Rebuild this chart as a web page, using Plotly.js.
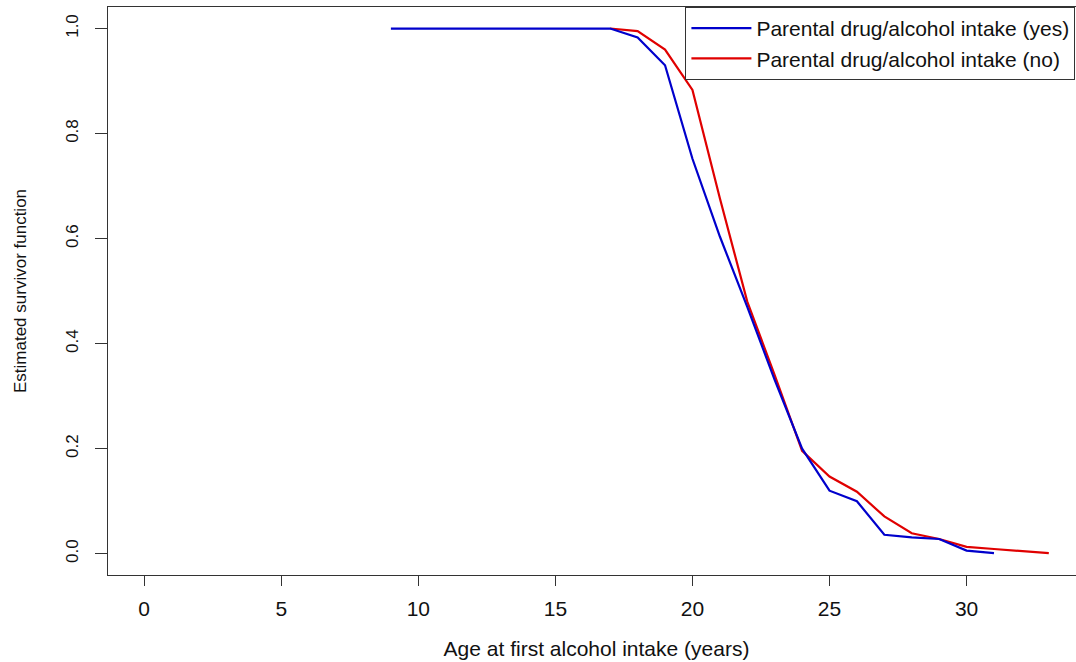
<!DOCTYPE html>
<html>
<head>
<meta charset="utf-8">
<script src="https://cdn.plot.ly/plotly-3.0.1.min.js"></script>
<style>
html, body { margin: 0; padding: 0; overflow: hidden; background: #ffffff; }
#chart { width: 1094px; height: 662px; }
</style>
</head>
<body>
<div id="chart"></div>
<script>
// Ages (years)
const agesYes = [9, 10, 11, 12, 13, 14, 15, 16, 17, 18, 19, 20, 21, 22, 23, 24, 25, 26, 27, 28, 29, 30, 31];
const survYes = [1.0, 1.0, 1.0, 1.0, 1.0, 1.0, 1.0, 1.0, 1.0, 0.983, 0.930, 0.752, 0.604, 0.470, 0.331, 0.200, 0.120, 0.100, 0.036, 0.031, 0.028, 0.006, 0.001];

const agesNo = [17, 18, 19, 20, 21, 22, 23, 24, 25, 26, 27, 28, 29, 30, 31, 32, 33];
const survNo = [1.0, 0.995, 0.960, 0.883, 0.677, 0.480, 0.340, 0.196, 0.147, 0.118, 0.071, 0.039, 0.028, 0.013, 0.009, 0.005, 0.001];

const nameYes = "Parental drug/alcohol intake (yes)";
const nameNo = "Parental drug/alcohol intake (no)";
const xTicks = [0, 5, 10, 15, 20, 25, 30];
const yTicks = [0.0, 0.2, 0.4, 0.6, 0.8, 1.0];
const yTickText = ["0.0", "0.2", "0.4", "0.6", "0.8", "1.0"];

const FONT = "Liberation Sans, Arial, sans-serif";

const traces = [
  {
    x: agesNo, y: survNo, type: "scatter", mode: "lines", name: nameNo,
    line: { color: "#e00000", width: 2.2 }, legendrank: 2
  },
  {
    x: agesYes, y: survYes, type: "scatter", mode: "lines", name: nameYes,
    line: { color: "#0000cc", width: 2.2 }, legendrank: 1
  }
];

const layout = {
  width: 1094, height: 662,
  margin: { l: 108, r: 9, t: 7, b: 87 },
  paper_bgcolor: "#ffffff", plot_bgcolor: "#ffffff",
  font: { family: FONT, color: "#111111" },
  showlegend: true,
  legend: {
    x: 0.591, xanchor: "left", y: 1, yanchor: "top",
    bgcolor: "#ffffff", bordercolor: "#333333", borderwidth: 1,
    font: { family: FONT, size: 21, color: "#111111" },
    itemwidth: 60, tracegroupgap: 0
  },
  xaxis: {
    range: [-1.32, 34.32], autorange: false,
    tickmode: "array", tickvals: xTicks,
    ticks: "outside", ticklen: 10, tickwidth: 1, tickcolor: "#333333",
    showline: true, linecolor: "#333333", linewidth: 1, mirror: true,
    showgrid: false, zeroline: false,
    tickfont: { family: FONT, size: 21, color: "#111111" },
    ticklabelstandoff: 5,
    title: { text: "Age at first alcohol intake (years)", font: { family: FONT, size: 21, color: "#111111" }, standoff: 22 },
    automargin: false
  },
  yaxis: {
    range: [-0.0405, 1.041], autorange: false,
    tickmode: "array", tickvals: yTicks, ticktext: yTickText,
    ticks: "outside", ticklen: 12, tickwidth: 1, tickcolor: "#333333",
    showline: true, linecolor: "#333333", linewidth: 1, mirror: true,
    showgrid: false, zeroline: false,
    tickangle: -90,
    tickfont: { family: FONT, size: 17, color: "#111111" },
    ticklabelstandoff: 10,
    title: { text: "Estimated survivor function", font: { family: FONT, size: 17, color: "#111111" }, standoff: 32 },
    automargin: false
  }
};

Plotly.newPlot("chart", traces, layout, { displayModeBar: false, staticPlot: true });
</script>
</body>
</html>
